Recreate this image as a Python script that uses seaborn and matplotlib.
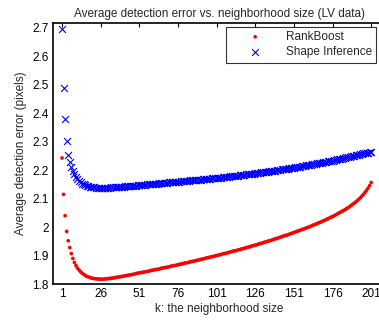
import numpy as np
import pandas as pd
import matplotlib
matplotlib.use("Agg")
import matplotlib.pyplot as plt
import seaborn as sns

# neighborhood sizes k = 1..201
k_values = list(range(1, 202))

rankboost = [
    2.243, 2.115, 2.040, 1.985, 1.952, 1.928, 1.907, 1.890, 1.876, 1.865,
    1.856, 1.849, 1.843, 1.838, 1.834, 1.830, 1.827, 1.825, 1.823, 1.821,
    1.820, 1.819, 1.818, 1.818, 1.817, 1.817, 1.817, 1.817, 1.818, 1.818,
    1.819, 1.820, 1.820, 1.821, 1.822, 1.823, 1.824, 1.825, 1.826, 1.827,
    1.828, 1.829, 1.830, 1.831, 1.832, 1.833, 1.834, 1.835, 1.837, 1.838,
    1.839, 1.840, 1.841, 1.842, 1.843, 1.844, 1.845, 1.847, 1.848, 1.849,
    1.850, 1.851, 1.852, 1.853, 1.855, 1.856, 1.857, 1.858, 1.859, 1.860,
    1.862, 1.863, 1.864, 1.865, 1.866, 1.868, 1.869, 1.870, 1.871, 1.873,
    1.874, 1.875, 1.876, 1.878, 1.879, 1.880, 1.881, 1.883, 1.884, 1.885,
    1.887, 1.888, 1.889, 1.891, 1.892, 1.893, 1.895, 1.896, 1.897, 1.899,
    1.900, 1.901, 1.903, 1.904, 1.906, 1.907, 1.908, 1.910, 1.911, 1.913,
    1.914, 1.916, 1.917, 1.918, 1.920, 1.921, 1.923, 1.924, 1.926, 1.927,
    1.929, 1.930, 1.932, 1.934, 1.935, 1.937, 1.938, 1.940, 1.942, 1.943,
    1.945, 1.947, 1.948, 1.950, 1.952, 1.953, 1.955, 1.957, 1.959, 1.960,
    1.962, 1.964, 1.966, 1.968, 1.970, 1.971, 1.973, 1.975, 1.977, 1.979,
    1.981, 1.983, 1.985, 1.987, 1.989, 1.991, 1.993, 1.995, 1.997, 1.999,
    2.001, 2.003, 2.006, 2.008, 2.010, 2.012, 2.015, 2.017, 2.019, 2.022,
    2.024, 2.027, 2.029, 2.032, 2.035, 2.037, 2.040, 2.043, 2.046, 2.049,
    2.052, 2.055, 2.058, 2.061, 2.065, 2.068, 2.072, 2.076, 2.080, 2.084,
    2.088, 2.093, 2.098, 2.103, 2.109, 2.115, 2.122, 2.129, 2.137, 2.146,
    2.157,
]

shape_inference = [
    2.697, 2.488, 2.379, 2.304, 2.255, 2.228, 2.210, 2.196, 2.185, 2.176,
    2.168, 2.162, 2.157, 2.153, 2.150, 2.147, 2.145, 2.143, 2.142, 2.141,
    2.140, 2.140, 2.139, 2.139, 2.139, 2.139, 2.139, 2.139, 2.139, 2.139,
    2.139, 2.139, 2.140, 2.140, 2.140, 2.140, 2.141, 2.141, 2.141, 2.142,
    2.142, 2.143, 2.143, 2.144, 2.144, 2.145, 2.145, 2.146, 2.146, 2.147,
    2.147, 2.148, 2.148, 2.149, 2.149, 2.150, 2.150, 2.151, 2.151, 2.152,
    2.152, 2.153, 2.153, 2.154, 2.154, 2.155, 2.155, 2.156, 2.156, 2.157,
    2.157, 2.158, 2.158, 2.159, 2.159, 2.160, 2.160, 2.161, 2.161, 2.162,
    2.162, 2.163, 2.163, 2.164, 2.164, 2.165, 2.165, 2.166, 2.166, 2.167,
    2.167, 2.168, 2.168, 2.169, 2.169, 2.170, 2.170, 2.171, 2.171, 2.172,
    2.172, 2.173, 2.173, 2.174, 2.175, 2.175, 2.176, 2.177, 2.177, 2.178,
    2.179, 2.179, 2.180, 2.181, 2.181, 2.182, 2.183, 2.183, 2.184, 2.185,
    2.185, 2.186, 2.187, 2.188, 2.188, 2.189, 2.190, 2.191, 2.191, 2.192,
    2.193, 2.194, 2.194, 2.195, 2.196, 2.197, 2.198, 2.198, 2.199, 2.200,
    2.201, 2.202, 2.203, 2.203, 2.204, 2.205, 2.206, 2.207, 2.208, 2.209,
    2.209, 2.210, 2.211, 2.212, 2.213, 2.214, 2.215, 2.216, 2.217, 2.218,
    2.219, 2.220, 2.221, 2.222, 2.223, 2.224, 2.225, 2.226, 2.227, 2.228,
    2.229, 2.230, 2.231, 2.232, 2.233, 2.234, 2.235, 2.237, 2.238, 2.239,
    2.240, 2.241, 2.242, 2.244, 2.245, 2.246, 2.247, 2.249, 2.250, 2.251,
    2.252, 2.254, 2.255, 2.256, 2.257, 2.259, 2.260, 2.261, 2.262, 2.264,
    2.265,
]

x_ticks = [1, 26, 51, 76, 101, 126, 151, 176, 201]
y_ticks = [1.8, 1.9, 2.0, 2.1, 2.2, 2.3, 2.4, 2.5, 2.6, 2.7]
y_tick_labels = ["1.8", "1.9", "2", "2.1", "2.2", "2.3", "2.4", "2.5", "2.6", "2.7"]

df_rb = pd.DataFrame({"k": k_values, "err": rankboost})
df_si = pd.DataFrame({"k": k_values, "err": shape_inference})

sns.set_style("white")
plt.rcParams["font.family"] = ["Liberation Sans", "DejaVu Sans"]
fs = 8.5

fig = plt.figure(figsize=(3.79, 3.22), dpi=100)
ax = fig.add_axes([0.140, 0.118, 0.876, 0.811])

sns.scatterplot(data=df_rb, x="k", y="err", ax=ax, color="red", marker="o",
                s=7, edgecolor="none", label="RankBoost", zorder=3)
sns.scatterplot(data=df_si, x="k", y="err", ax=ax, color="blue", marker="x",
                s=25, linewidth=0.8, label="Shape Inference", zorder=2)

ax.set_xlim(-4.8, 210)
ax.set_ylim(1.8, 2.718)
ax.set_xticks(x_ticks)
ax.set_yticks(y_ticks)
ax.set_yticklabels(y_tick_labels)
ax.tick_params(direction="in", length=3, width=0.8, colors="black",
               top=True, right=True, labelsize=fs, pad=3)
for sp in ax.spines.values():
    sp.set_color("black")
    sp.set_linewidth(1.2)

ax.set_title("Average detection error vs. neighborhood size (LV data)", fontsize=fs, pad=4)
ax.set_xlabel("k: the neighborhood size", fontsize=fs, labelpad=2)
ax.set_ylabel("Average detection error (pixels)", fontsize=fs, labelpad=4)

leg = ax.legend(loc="upper right", bbox_to_anchor=(0.973, 0.985), frameon=True,
                fancybox=False, fontsize=fs, markerscale=1.0, handletextpad=0.5,
                borderpad=0.35, labelspacing=0.3, handlelength=4.2,
                borderaxespad=0)
leg.get_frame().set_edgecolor("black")
leg.get_frame().set_linewidth(0.8)

fig.savefig("out.png", dpi=100)
